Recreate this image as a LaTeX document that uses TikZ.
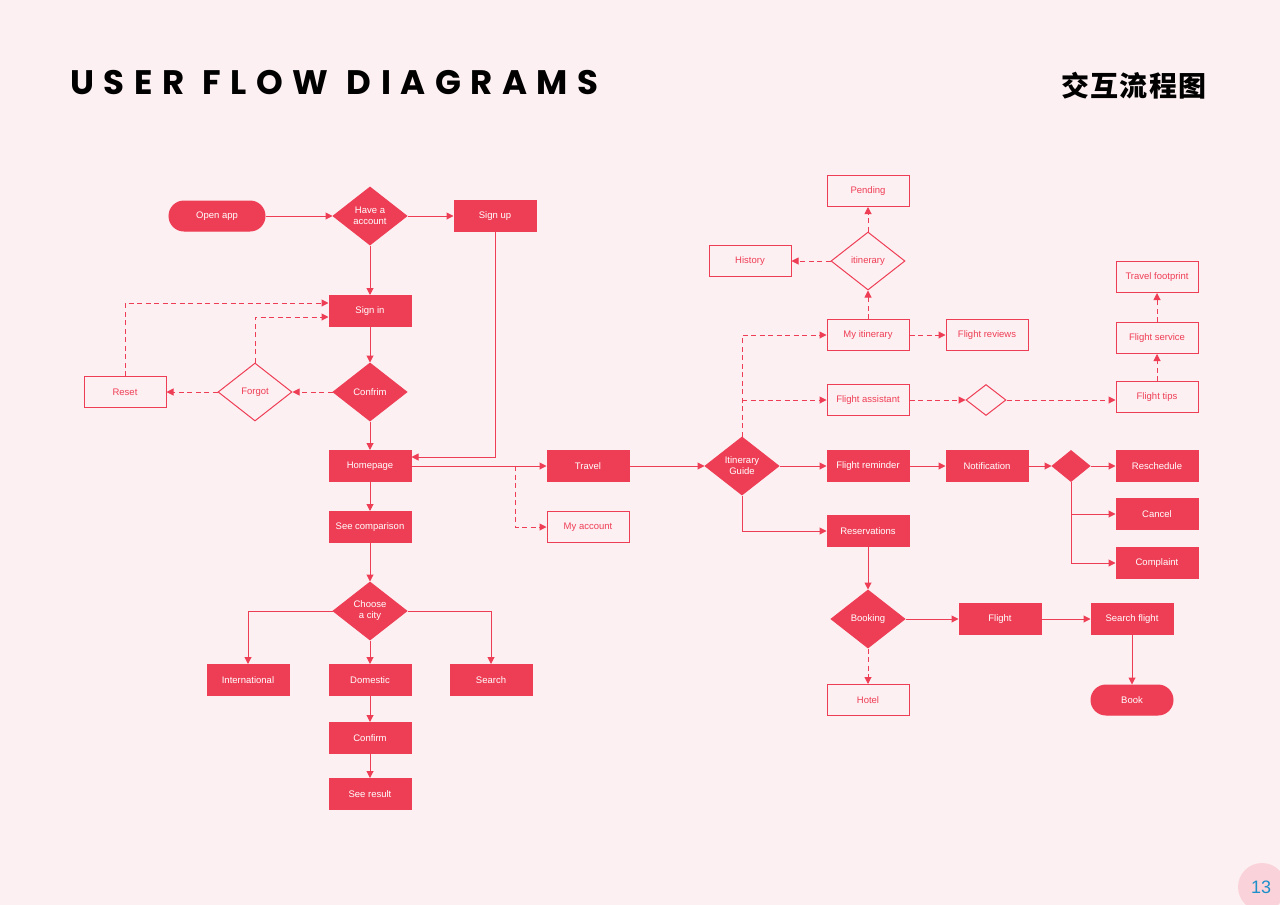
\documentclass[tikz,border=0pt]{standalone}
\usepackage{fontspec}
\setmainfont{Liberation Sans}
\newfontfamily\titlefont[LetterSpace=28,WordSpace=1.1]{Poppins Bold}
\newfontfamily\cjk[LetterSpace=4]{Noto Sans CJK SC}
\usepackage{xcolor}
\usepackage{tikz}
\usetikzlibrary{shapes}
\usetikzlibrary{shapes.geometric}
\usetikzlibrary{arrows.meta}
\definecolor{bgpink}{HTML}{FDF0F2}
\definecolor{flowred}{HTML}{EE3E55}
\definecolor{numblue}{HTML}{1E8FC8}
\definecolor{numpink}{HTML}{FAD3DA}
\tikzset{
  box/.style={rectangle,draw=flowred,line width=1pt,minimum width=82pt,minimum height=31pt,inner sep=0pt,font=\fontsize{9.5}{11}\selectfont},
  fbox/.style={box,fill=flowred,text=white},
  obox/.style={box,fill=bgpink,text=flowred},
  pill/.style={fbox,rounded corners=15pt,minimum width=96pt,minimum height=30pt},
  dec/.style={diamond,aspect=1.28,draw=flowred,line width=1pt,minimum width=74pt,minimum height=58pt,inner sep=0pt,align=center,font=\fontsize{9.5}{11}\selectfont},
  fdec/.style={dec,fill=flowred,text=white},
  odec/.style={dec,fill=bgpink,text=flowred},
  flow/.style={draw=flowred,line width=1pt,-{Triangle[length=7pt,width=7pt]}},
  dflow/.style={flow,dash pattern=on 5pt off 3.5pt},
}
\begin{document}
\begin{tikzpicture}[x=1pt,y=1pt,yscale=-1,xscale=1]
		% background
		\fill [bgpink] (0,0) rectangle (1280,905);
		\useasboundingbox (0,0) rectangle (1280,905);
		\fill [numpink] (1262,887) circle (24);
		\node (pagenum) at (1261,887) [text=numblue,font=\fontsize{18}{20}\selectfont] {13};
		
		% Titles
		\node (title) at (70,83) [anchor=west,inner sep=0pt,font=\titlefont\fontsize{34}{36}\selectfont] {USER FLOW DIAGRAMS};
		\node (cntitle) at (1134,86) [inner sep=0pt,font=\cjk\bfseries\fontsize{28}{30}\selectfont] {交互流程图};
		
		% Login column
		\node [pill] (openapp) at (217,216) {Open app};
		\node [fdec] (have) at (370,216) {Have a\\account};
		\node [fbox] (signup) at (495,216) {Sign up};
		\node [fbox] (signin) at (370,311) {Sign in};
		\node [fdec] (confirm) at (370,392) {Confrim};
		\node [odec] (forgot) at (255,392) {Forgot};
		\node [obox] (reset) at (125,392) {Reset};
		\node [fbox] (homepage) at (370,466) {Homepage};
		\node [fbox] (seecomp) at (370,527) {See comparison};
		\node [fdec] (choose) at (370,611) {Choose\\a city};
		\node [fbox] (intl) at (248,680) {International};
		\node [fbox] (domestic) at (370,680) {Domestic};
		\node [fbox] (search) at (491,680) {Search};
		\node [fbox] (confirmb) at (370,738) {Confirm};
		\node [fbox] (result) at (370,794) {See result};
		
		% Travel part
		\node [fbox] (travel) at (588,466) {Travel};
		\node [obox] (account) at (588,527) {My account};
		\node [fdec] (guide) at (742,466) {Itinerary\\Guide};
		\node [obox] (myitin) at (868,335) {My itinerary};
		\node [odec] (itindec) at (868,261) {itinerary};
		\node [obox] (pending) at (868,191) {Pending};
		\node [obox] (history) at (750,261) {History};
		\node [obox] (reviews) at (987,335) {Flight reviews};
		\node [obox] (assist) at (868,400) {Flight assistant};
		\node [odec,minimum width=40pt,minimum height=31pt] (tipdec) at (986,400) {};
		\node [obox] (tips) at (1157,397) {Flight tips};
		\node [obox] (service) at (1157,338) {Flight service};
		\node [obox] (footprint) at (1157,277) {Travel footprint};
		\node [fbox] (reminder) at (868,466) {Flight reminder};
		\node [fbox] (notif) at (987,466) {Notification};
		\node [fdec,minimum width=38pt,minimum height=31pt] (notdec) at (1071,466) {};
		\node [fbox] (resched) at (1157,466) {Reschedule};
		\node [fbox] (cancel) at (1157,514) {Cancel};
		\node [fbox] (complaint) at (1157,563) {Complaint};
		\node [fbox] (reserv) at (868,531) {Reservations};
		\node [fdec] (booking) at (868,619) {Booking};
		\node [obox] (hotel) at (868,700) {Hotel};
		\node [fbox] (flight) at (1000,619) {Flight};
		\node [fbox] (sflight) at (1132,619) {Search flight};
		\node [pill,minimum width=82pt] (book) at (1132,700) {Book};
		
		% Connectors, login
		\draw [flow] (openapp) -- (have);
		\draw [flow] (have) -- (signup);
		\draw [flow] (have) -- (signin);
		\draw [flow] (signup.south) |- ([yshift=-9pt]homepage.east);
		\draw [flow] (signin) -- (confirm);
		\draw [flow] (confirm) -- (homepage);
		\draw [dflow] (confirm) -- (forgot);
		\draw [dflow] (forgot) -- (reset);
		\draw [dflow] (forgot.north) |- ([yshift=6pt]signin.west);
		\draw [dflow] (reset.north) |- ([yshift=-8pt]signin.west);
		\draw [flow] (homepage) -- (seecomp);
		\draw [flow] (seecomp) -- (choose);
		\draw [flow] (choose.west) -| (intl.north);
		\draw [flow] (choose) -- (domestic);
		\draw [flow] (choose.east) -| (search.north);
		\draw [flow] (domestic) -- (confirmb);
		\draw [flow] (confirmb) -- (result);
		
		% Connectors, travel
		\coordinate (hsplit) at (515,466);
		\draw [flow] (homepage) -- (travel);
		\draw [dflow] (hsplit) |- (account.west);
		\draw [flow] (travel) -- (guide);
		\draw [flow] (guide) -- (reminder);
		\draw [flow] (guide.south) |- (reserv.west);
		\draw [dflow] (guide.north) |- (myitin.west);
		\coordinate (gsplit) at (742,400);
		\draw [dflow] (gsplit) -- (assist.west);
		\draw [dflow] (myitin) -- (itindec);
		\draw [dflow] (itindec) -- (pending);
		\draw [dflow] (itindec) -- (history);
		\draw [dflow] (myitin) -- (reviews);
		\draw [dflow] (assist) -- (tipdec);
		\draw [dflow] (tipdec.east) -- (tipdec.east -| tips.west);
		\draw [dflow] (tips) -- (service);
		\draw [dflow] (service) -- (footprint);
		\draw [flow] (reminder) -- (notif);
		\draw [flow] (notif) -- (notdec);
		\draw [flow] (notdec) -- (resched);
		\draw [flow] (notdec.south) |- (cancel.west);
		\draw [flow] (notdec.south) |- (complaint.west);
		\draw [flow] (reserv) -- (booking);
		\draw [dflow] (booking) -- (hotel);
		\draw [flow] (booking) -- (flight);
		\draw [flow] (flight) -- (sflight);
		\draw [flow] (sflight) -- (book);
		
	\end{tikzpicture}
\end{document}
